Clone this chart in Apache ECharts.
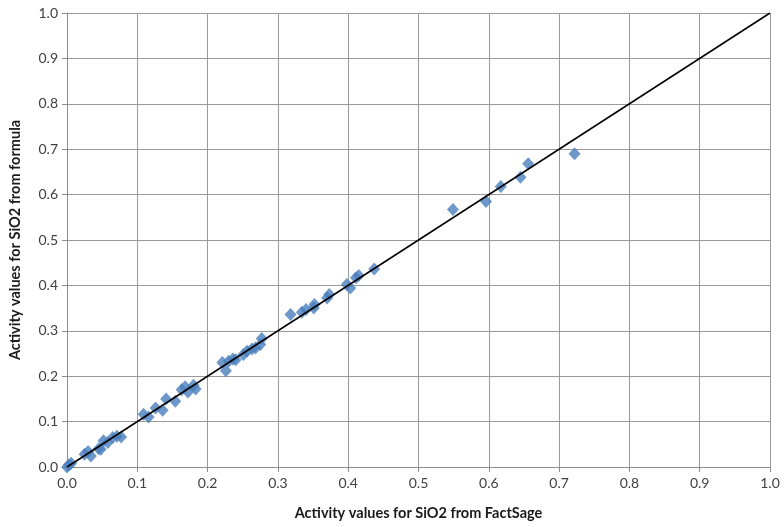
<!DOCTYPE html>
<html>
<head>
<meta charset="utf-8">
<script src="https://cdn.jsdelivr.net/npm/echarts@6/dist/echarts.min.js"></script>
<style>
  html, body { margin: 0; padding: 0; background: #fff; }
  #chart { width: 784px; height: 527px; }
</style>
</head>
<body>
<div id="chart"></div>
<script>
// Activity of SiO2: FactSage values (x) against formula values (y)
const factSage = [
  0.000, 0.003, 0.006, 0.025, 0.030, 0.034, 0.045, 0.048, 0.052, 0.058, 0.065, 0.071, 0.077,
  0.109, 0.116, 0.126, 0.136, 0.141, 0.154, 0.163, 0.168, 0.172, 0.180, 0.183,
  0.221, 0.226, 0.230, 0.236, 0.240, 0.251, 0.256, 0.263, 0.268, 0.275, 0.277,
  0.318, 0.334, 0.340, 0.351, 0.352, 0.370, 0.373, 0.398, 0.403, 0.411, 0.415, 0.437,
  0.549, 0.596, 0.617, 0.645, 0.656, 0.722
];
const formula = [
  0.000, 0.005, 0.008, 0.028, 0.034, 0.024, 0.040, 0.039, 0.058, 0.054, 0.065, 0.068, 0.066,
  0.116, 0.110, 0.130, 0.125, 0.150, 0.145, 0.170, 0.177, 0.165, 0.180, 0.172,
  0.230, 0.212, 0.233, 0.238, 0.236, 0.248, 0.255, 0.260, 0.262, 0.270, 0.283,
  0.336, 0.341, 0.347, 0.350, 0.358, 0.372, 0.380, 0.402, 0.394, 0.417, 0.422, 0.436,
  0.567, 0.585, 0.618, 0.638, 0.668, 0.690
];
// Reference line y = x
const lineX = [0, 1];
const tickLabels = ['0.0','0.1','0.2','0.3','0.4','0.5','0.6','0.7','0.8','0.9','1.0'];

const points = factSage.map((x, i) => [x, formula[i]]);
const identity = lineX.map(v => [v, v]);

const gray = '#8c8c8c';
const family = 'Lato, "Open Sans", sans-serif';
const labelFont = { fontFamily: family, fontSize: 14, color: '#404040' };

function axis(name, gap) {
  return {
    type: 'value', min: 0, max: 1, interval: 0.1,
    name: name, nameLocation: 'middle', nameGap: gap,
    nameTextStyle: { fontFamily: family, fontSize: 14.5, fontWeight: 'bold', color: '#1a1a1a' },
    axisLine: { show: true, lineStyle: { color: gray, width: 1 } },
    axisTick: { show: true, length: 5, lineStyle: { color: gray } },
    splitLine: { show: true, lineStyle: { color: '#9a9a9a', width: 1 } },
    axisLabel: Object.assign({ margin: 9, formatter: v => tickLabels[Math.round(v * 10)] }, labelFont)
  };
}

const chart = echarts.init(document.getElementById('chart'), null, { renderer: 'canvas' });
chart.setOption({
  animation: false,
  backgroundColor: '#fff',
  grid: { left: 66, top: 13, right: 14, bottom: 60, containLabel: false },
  xAxis: axis('Activity values for SiO2 from FactSage', 39),
  yAxis: axis('Activity values for SiO2 from formula', 44),
  series: [
    {
      type: 'line', data: identity, symbol: 'none',
      lineStyle: { color: '#000', width: 1.5 }, z: 3
    },
    {
      type: 'scatter', data: points, symbol: 'diamond', symbolSize: [12, 13],
      itemStyle: { color: '#4a7ebb' }, z: 2
    }
  ]
});
</script>
</body>
</html>
